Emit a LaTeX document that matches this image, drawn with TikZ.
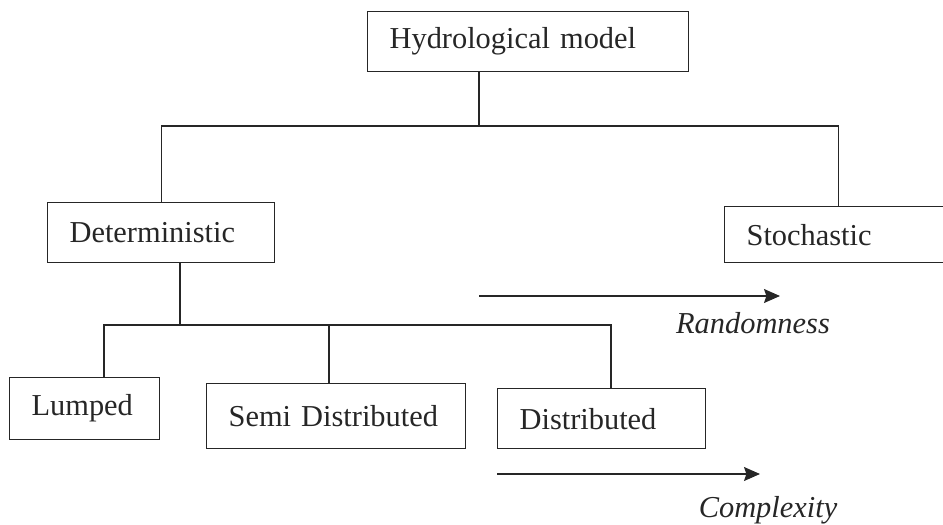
\documentclass[tikz,border=0pt]{standalone}
\usepackage{fontspec}
\setmainfont{Liberation Serif}
\usetikzlibrary{arrows.meta}

\begin{document}
\begin{tikzpicture}[x=0.5pt, y=-0.5pt, color=black!85, line width=0.6pt,
	font=\fontsize{15.2pt}{18pt}\selectfont,
	box/.style={draw, rectangle, anchor=north west, inner xsep=11pt, inner ysep=0pt, minimum height=30pt, align=left},
	trend/.style={-{Stealth[length=8pt, width=7pt, inset=1.2pt]}},
	trendlabel/.style={anchor=base, font=\fontsize{15.2pt}{18pt}\selectfont\itshape}]
	\useasboundingbox (0,0) rectangle (943,525);
	\clip (0,0) rectangle (943,525);

	\node [box, text width=138.5pt] (hydro) at (367,11) {Hydrological model};
	\node [box, text width=91.5pt] (determ) at (47,202) {Deterministic};
	\node [box, text width=91.5pt, minimum height=28pt] (stoch) at (724,206) {Stochastic};
	\node [box, text width=53pt, minimum height=31pt] (lumped) at (9,377) {Lumped};
	\node [box, text width=107.5pt, minimum height=32.5pt] (semi) at (206,383) {\mbox{Semi Distributed}};
	\node [box, text width=82pt] (distr) at (497,388) {Distributed};

	\coordinate (upper) at (479,126);
	\coordinate (lower) at (180,325);
	\coordinate (toLumped) at (104,325);
	\coordinate (toSemi) at (329,325);
	\coordinate (toDistr) at (611,325);

	\draw (hydro.south -| upper) -- (upper);
	\draw (determ.north) |- (upper) -| (stoch.north);
	\draw (determ.south -| lower) -- (lower);
	\draw (toLumped |- lumped.north) -- (toLumped) -- (toDistr) -- (toDistr |- distr.north);
	\draw (toSemi) -- (toSemi |- semi.north);

	\coordinate (rand0) at (479,296);
	\coordinate (rand1) at (780,296);
	\draw [trend] (rand0) -- (rand1);
	\node [trendlabel] (randlabel) at (753,333) {Randomness};

	\coordinate (comp0) at (497,474);
	\coordinate (comp1) at (760,474);
	\draw [trend] (comp0) -- (comp1);
	\node [trendlabel] (complabel) at (768,517) {Complexity};
\end{tikzpicture}
\end{document}
